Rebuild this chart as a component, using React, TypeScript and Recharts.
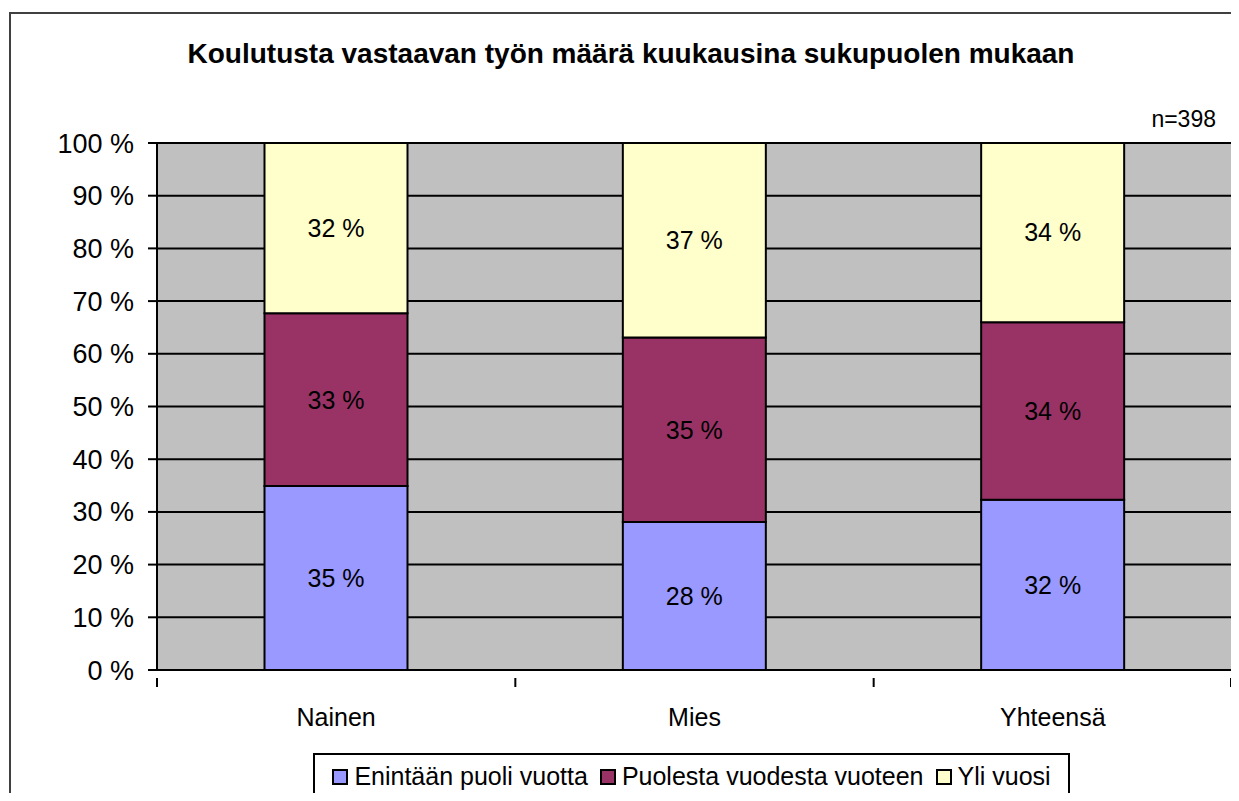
import { BarChart, Bar, XAxis, YAxis, CartesianGrid, LabelList } from 'recharts';

const categories = ['Nainen', 'Mies', 'Yhteensä'];
const enintaanPuoliVuotta = [34.9, 28.1, 32.3];
const puolestaVuodestaVuoteen = [32.8, 35.0, 33.7];
const yliVuosi = [32.3, 36.9, 34.0];
const yTicks = [0, 10, 20, 30, 40, 50, 60, 70, 80, 90, 100];

const series = [
  { key: 'a', name: 'Enintään puoli vuotta', color: '#9999FF', values: enintaanPuoliVuotta },
  { key: 'b', name: 'Puolesta vuodesta vuoteen', color: '#993366', values: puolestaVuodestaVuoteen },
  { key: 'c', name: 'Yli vuosi', color: '#FFFFCC', values: yliVuosi },
];

const data = categories.map((name, i) => {
  const row: Record<string, string | number> = { name };
  series.forEach(s => {
    row[s.key] = s.values[i];
  });
  return row;
});

const FONT = '"Liberation Sans", Arial, sans-serif';
const PLOT_LEFT = 157;
const PLOT_RIGHT = 1232;
const BAND = (PLOT_RIGHT - PLOT_LEFT) / categories.length;

const CategoryTick = (props: any) => {
  const { x, y, payload, index } = props;
  const left = x - BAND / 2;
  const right = Math.min(x + BAND / 2, PLOT_RIGHT - 1);
  return <g>
      <line x1={left} y1={y} x2={left} y2={y + 9} stroke="#000" strokeWidth={2} />
      {index === categories.length - 1 && <line x1={right} y1={y} x2={right} y2={y + 9} stroke="#000" strokeWidth={2} />}
      <text x={x} y={y + 48} textAnchor="middle" fontFamily={FONT} fontSize={25} fill="#000">
        {payload.value}
      </text>
    </g>;
};

const App = () => {
  return <div style={{ position: 'relative', width: 1239, height: 801, margin: -8, overflow: 'hidden', background: '#fff' }}>
      <div style={{ position: 'absolute', left: 9, top: 12, width: 1260, height: 820, border: '2px solid #404040' }} />
      <div style={{ position: 'absolute', left: 0, width: 1262, top: 38, textAlign: 'center', fontFamily: FONT, fontWeight: 'bold', fontSize: 28 }}>
        Koulutusta vastaavan työn määrä kuukausina sukupuolen mukaan
      </div>
      <div style={{ position: 'absolute', right: 1239 - 1216, top: 106, fontFamily: FONT, fontSize: 23 }}>
        n=398
      </div>
      <div style={{ position: 'absolute', left: 0, top: 0 }}>
        <BarChart width={1239} height={801} data={data} barCategoryGap="30%"
          margin={{ top: 143, right: 1239 - PLOT_RIGHT, bottom: 91, left: PLOT_LEFT - 100 }}>
          <CartesianGrid vertical={false} stroke="#000" strokeWidth={2} fill="#C0C0C0" fillOpacity={1} />
          <XAxis dataKey="name" axisLine={{ stroke: '#000', strokeWidth: 2 }} tickLine={false} height={40}
            interval={0} tick={<CategoryTick />} />
          <YAxis width={100} domain={[0, 100]} ticks={yTicks} interval={0}
            axisLine={{ stroke: '#000', strokeWidth: 2 }} tickLine={{ stroke: '#000', strokeWidth: 2 }}
            tickSize={9} tickMargin={14} tickFormatter={(v: number) => `${v} %`}
            tick={{ fill: '#000', fontFamily: FONT, fontSize: 27 }} />
          {series.map(s => <Bar key={s.key} dataKey={s.key} name={s.name} stackId="s" fill={s.color}
              stroke="#000" strokeWidth={2} isAnimationActive={false}>
              <LabelList dataKey={s.key} position="center" fill="#000" fontFamily={FONT} fontSize={25}
                formatter={(v: any) => `${Math.round(Number(v))} %`} />
            </Bar>)}
        </BarChart>
      </div>
      <div style={{ position: 'absolute', left: PLOT_RIGHT - 1, top: 143, width: 2, height: 527, background: '#808080' }} />
      <div style={{ position: 'absolute', left: 313, top: 753, width: 757, height: 47, boxSizing: 'border-box',
        border: '2px solid #000', display: 'flex', alignItems: 'center', justifyContent: 'center', gap: 12,
        fontFamily: FONT, fontSize: 25 }}>
        {series.map(s => <div key={s.key} style={{ display: 'flex', alignItems: 'center', gap: 6 }}>
            <span style={{ display: 'inline-block', width: 12, height: 12, background: s.color, border: '2px solid #000' }} />
            <span>{s.name}</span>
          </div>)}
      </div>
    </div>;
};

export default App;
